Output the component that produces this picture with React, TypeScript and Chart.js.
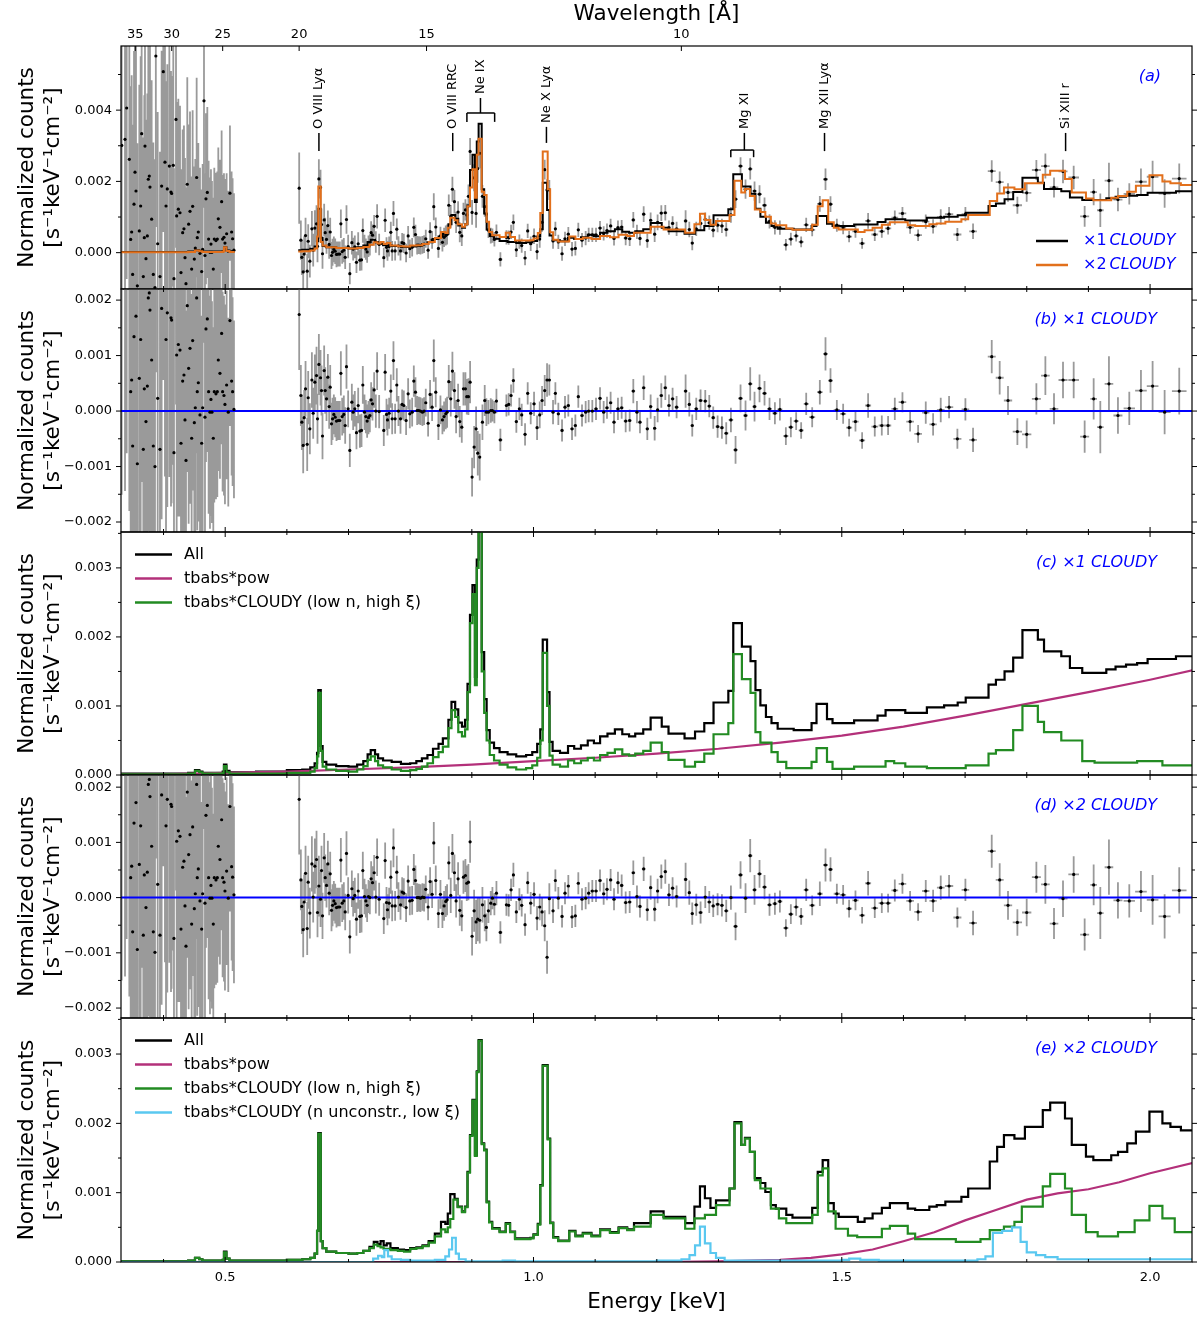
import { useEffect, useRef } from 'react'
import { Chart, LineController, LineElement, PointElement, LinearScale } from 'chart.js'

Chart.register(LineController, LineElement, PointElement, LinearScale)
Chart.defaults.font.family = '"DejaVu Sans", sans-serif'

// every count value below is in units of 1e-3 s^-1 keV^-1 cm^-2
type Step = [number, number]          // [bin start energy (keV), value]
type Resid = [number, number, number] // [energy (keV), residual to x1 model, 1-sigma error]

const E_MIN = 0.331
const E_MAX = 2.068
const HC = 12.398 // keV * Angstrom

const LAMBDA_TICKS = [35, 30, 25, 20, 15, 10]
const E_LABELS = [0.5, 1.0, 1.5, 2.0]
const E_TICKS = [0.4, 0.5, 0.6, 0.7, 0.8, 0.9, 1.0, 1.1, 1.2, 1.3, 1.4, 1.5, 1.6, 1.7, 1.8, 1.9, 2.0]

// total model with one CLOUDY component (panel c "All", black in panel a)
const ALL_X1: Step[] = [
  [0.331, 0.02], [0.44, 0.03], [0.451, 0.07], [0.458, 0.05], [0.463, 0.03],
  [0.496, 0.05], [0.498, 0.15], [0.502, 0.06], [0.507, 0.04], [0.55, 0.05],
  [0.6, 0.07], [0.625, 0.08], [0.638, 0.11], [0.645, 0.17], [0.649, 0.32],
  [0.651, 1.23], [0.655, 0.42], [0.658, 0.19], [0.664, 0.15], [0.68, 0.13],
  [0.7, 0.12], [0.714, 0.15], [0.724, 0.2], [0.731, 0.3], [0.736, 0.36],
  [0.743, 0.3], [0.748, 0.24], [0.756, 0.21], [0.77, 0.19], [0.785, 0.16],
  [0.8, 0.17], [0.81, 0.2], [0.819, 0.24], [0.828, 0.29], [0.837, 0.38],
  [0.846, 0.45], [0.853, 0.53], [0.862, 0.8], [0.867, 1.06], [0.873, 0.95],
  [0.878, 0.76], [0.884, 0.7], [0.889, 0.8], [0.893, 1.32], [0.897, 2.32],
  [0.901, 2.75], [0.905, 1.42], [0.908, 3.12], [0.911, 3.62], [0.916, 1.78],
  [0.92, 1.1], [0.924, 0.65], [0.929, 0.47], [0.936, 0.39], [0.945, 0.33],
  [0.958, 0.3], [0.972, 0.27], [0.988, 0.29], [0.998, 0.33], [1.006, 0.45],
  [1.011, 0.66], [1.015, 1.96], [1.022, 1.2], [1.026, 0.48], [1.031, 0.35],
  [1.043, 0.32], [1.056, 0.42], [1.066, 0.38], [1.077, 0.43], [1.088, 0.5],
  [1.098, 0.46], [1.108, 0.56], [1.12, 0.6], [1.132, 0.66], [1.144, 0.59],
  [1.155, 0.56], [1.165, 0.6], [1.178, 0.66], [1.19, 0.83], [1.208, 0.7],
  [1.219, 0.6], [1.245, 0.53], [1.262, 0.63], [1.277, 0.75], [1.292, 1.05],
  [1.316, 1.22], [1.324, 2.2], [1.338, 1.86], [1.352, 1.65], [1.36, 1.23],
  [1.368, 1.01], [1.377, 0.84], [1.386, 0.75], [1.396, 0.67], [1.422, 0.65],
  [1.451, 0.75], [1.459, 1.03], [1.476, 0.81], [1.485, 0.75], [1.52, 0.79],
  [1.558, 0.86], [1.571, 0.94], [1.603, 0.9], [1.638, 0.98], [1.666, 1.01],
  [1.688, 1.05], [1.701, 1.12], [1.738, 1.31], [1.75, 1.38], [1.764, 1.5],
  [1.778, 1.7], [1.793, 2.1], [1.818, 1.96], [1.828, 1.79], [1.856, 1.72],
  [1.87, 1.55], [1.89, 1.48], [1.929, 1.53], [1.944, 1.57], [1.961, 1.6],
  [1.979, 1.62], [1.996, 1.68], [2.042, 1.72], [2.07, 1.72],
]

const CLOUDY_X1: Step[] = [
  [0.331, 0.01], [0.44, 0.02], [0.451, 0.06], [0.458, 0.04], [0.463, 0.02],
  [0.496, 0.03], [0.498, 0.13], [0.502, 0.04], [0.507, 0.02], [0.55, 0.02],
  [0.6, 0.03], [0.625, 0.03], [0.638, 0.05], [0.645, 0.1], [0.649, 0.27],
  [0.651, 1.19], [0.655, 0.35], [0.658, 0.12], [0.664, 0.08], [0.68, 0.06],
  [0.7, 0.05], [0.714, 0.08], [0.724, 0.13], [0.731, 0.22], [0.736, 0.27],
  [0.743, 0.2], [0.748, 0.14], [0.756, 0.11], [0.77, 0.08], [0.785, 0.06],
  [0.8, 0.07], [0.81, 0.09], [0.819, 0.12], [0.828, 0.17], [0.837, 0.26],
  [0.846, 0.33], [0.853, 0.41], [0.862, 0.68], [0.867, 0.94], [0.873, 0.84],
  [0.878, 0.62], [0.884, 0.56], [0.889, 0.66], [0.893, 1.2], [0.897, 2.2],
  [0.901, 2.62], [0.905, 1.3], [0.908, 3.0], [0.911, 3.8], [0.916, 1.5],
  [0.92, 0.9], [0.924, 0.5], [0.929, 0.29], [0.936, 0.21], [0.945, 0.15],
  [0.958, 0.11], [0.972, 0.08], [0.988, 0.1], [0.998, 0.14], [1.006, 0.25],
  [1.011, 0.5], [1.015, 1.77], [1.022, 1.0], [1.026, 0.28], [1.031, 0.15],
  [1.043, 0.12], [1.056, 0.21], [1.066, 0.17], [1.077, 0.21], [1.088, 0.25],
  [1.098, 0.21], [1.108, 0.29], [1.12, 0.32], [1.132, 0.37], [1.144, 0.3],
  [1.155, 0.28], [1.165, 0.31], [1.178, 0.35], [1.19, 0.47], [1.208, 0.33],
  [1.219, 0.22], [1.245, 0.12], [1.262, 0.19], [1.277, 0.31], [1.292, 0.59],
  [1.316, 0.75], [1.324, 1.75], [1.338, 1.39], [1.352, 1.19], [1.36, 0.62],
  [1.368, 0.47], [1.386, 0.33], [1.396, 0.19], [1.41, 0.1], [1.451, 0.19],
  [1.459, 0.39], [1.476, 0.19], [1.485, 0.09], [1.52, 0.12], [1.571, 0.2],
  [1.585, 0.17], [1.603, 0.12], [1.638, 0.1], [1.701, 0.14], [1.738, 0.31],
  [1.75, 0.36], [1.778, 0.65], [1.793, 1.0], [1.818, 0.77], [1.828, 0.62],
  [1.856, 0.5], [1.89, 0.2], [1.91, 0.18], [1.979, 0.2], [2.0, 0.2],
  [2.02, 0.14], [2.07, 0.14],
]

const POW_X1: Step[] = [
  [0.331, 0.005], [0.4, 0.01], [0.5, 0.03], [0.6, 0.05], [0.7, 0.08],
  [0.8, 0.11], [0.9, 0.15], [1.0, 0.2], [1.1, 0.25], [1.2, 0.31],
  [1.3, 0.38], [1.4, 0.47], [1.5, 0.57], [1.6, 0.7], [1.7, 0.86],
  [1.8, 1.03], [1.9, 1.2], [2.0, 1.38], [2.07, 1.52],
]

// total model with two CLOUDY components (panel e "All", orange in panel a)
const ALL_X2: Step[] = [
  [0.331, 0.01], [0.44, 0.02], [0.451, 0.06], [0.458, 0.04], [0.463, 0.02],
  [0.496, 0.03], [0.498, 0.15], [0.502, 0.05], [0.507, 0.02], [0.55, 0.02],
  [0.6, 0.03], [0.625, 0.04], [0.638, 0.06], [0.645, 0.12], [0.649, 0.45],
  [0.651, 1.86], [0.655, 0.3], [0.658, 0.2], [0.664, 0.15], [0.68, 0.13],
  [0.7, 0.12], [0.714, 0.13], [0.724, 0.16], [0.734, 0.22], [0.741, 0.29],
  [0.747, 0.26], [0.752, 0.3], [0.757, 0.24], [0.762, 0.27], [0.768, 0.2],
  [0.78, 0.18], [0.79, 0.17], [0.8, 0.2], [0.81, 0.21], [0.82, 0.24],
  [0.83, 0.3], [0.84, 0.41], [0.85, 0.58], [0.857, 0.55], [0.861, 0.7],
  [0.865, 0.98], [0.872, 0.91], [0.877, 0.8], [0.884, 0.73], [0.889, 0.8],
  [0.893, 1.3], [0.897, 1.83], [0.901, 2.34], [0.905, 1.54], [0.908, 2.75],
  [0.911, 3.2], [0.916, 1.71], [0.92, 1.62], [0.924, 0.87], [0.928, 0.58],
  [0.933, 0.49], [0.945, 0.44], [0.955, 0.56], [0.962, 0.44], [0.97, 0.34],
  [0.995, 0.35], [1.0, 0.4], [1.007, 0.55], [1.011, 1.11], [1.015, 2.84],
  [1.023, 1.78], [1.027, 0.57], [1.032, 0.36], [1.04, 0.31], [1.058, 0.45],
  [1.068, 0.38], [1.08, 0.42], [1.094, 0.38], [1.108, 0.47], [1.124, 0.43],
  [1.138, 0.5], [1.152, 0.47], [1.163, 0.56], [1.19, 0.73], [1.211, 0.65],
  [1.246, 0.56], [1.261, 0.8], [1.27, 1.09], [1.278, 0.92], [1.287, 0.78],
  [1.296, 0.89], [1.318, 1.06], [1.326, 2.02], [1.337, 1.69], [1.343, 1.79],
  [1.351, 1.59], [1.359, 1.21], [1.368, 1.14], [1.376, 1.01], [1.385, 0.82],
  [1.393, 0.77], [1.41, 0.68], [1.42, 0.64], [1.452, 0.78], [1.461, 1.3],
  [1.469, 1.47], [1.478, 0.85], [1.487, 0.7], [1.495, 0.65], [1.526, 0.58],
  [1.537, 0.63], [1.55, 0.7], [1.565, 0.78], [1.578, 0.85], [1.607, 0.77],
  [1.619, 0.75], [1.642, 0.8], [1.654, 0.82], [1.668, 0.87], [1.694, 0.94],
  [1.705, 1.06], [1.74, 1.45], [1.752, 1.66], [1.763, 1.83], [1.78, 1.78],
  [1.797, 1.95], [1.826, 2.19], [1.838, 2.3], [1.862, 2.07], [1.873, 1.69],
  [1.896, 1.52], [1.908, 1.47], [1.937, 1.54], [1.948, 1.59], [1.963, 1.71],
  [1.977, 1.88], [1.999, 2.17], [2.02, 2.0], [2.033, 1.95], [2.05, 1.9],
  [2.07, 1.9],
]

const CLOUDY_HI_X2: Step[] = [
  [0.331, 0.01], [0.44, 0.02], [0.451, 0.06], [0.458, 0.04], [0.463, 0.02],
  [0.496, 0.03], [0.498, 0.14], [0.502, 0.05], [0.507, 0.02], [0.55, 0.02],
  [0.6, 0.03], [0.625, 0.04], [0.638, 0.06], [0.645, 0.12], [0.649, 0.45],
  [0.651, 1.85], [0.655, 0.3], [0.658, 0.2], [0.664, 0.15], [0.68, 0.13],
  [0.7, 0.12], [0.714, 0.13], [0.724, 0.16], [0.734, 0.2], [0.741, 0.25],
  [0.747, 0.23], [0.752, 0.21], [0.757, 0.19], [0.768, 0.17], [0.78, 0.16],
  [0.79, 0.15], [0.8, 0.19], [0.81, 0.2], [0.82, 0.23], [0.83, 0.28],
  [0.84, 0.37], [0.85, 0.47], [0.857, 0.43], [0.861, 0.5], [0.865, 0.62],
  [0.87, 0.9], [0.877, 0.79], [0.884, 0.72], [0.889, 0.79], [0.893, 1.29],
  [0.897, 1.82], [0.901, 2.33], [0.905, 1.53], [0.908, 2.74], [0.911, 3.19],
  [0.916, 1.7], [0.92, 1.61], [0.924, 0.86], [0.928, 0.57], [0.933, 0.48],
  [0.945, 0.43], [0.955, 0.55], [0.962, 0.43], [0.97, 0.33], [0.995, 0.34],
  [1.0, 0.39], [1.007, 0.54], [1.011, 1.1], [1.015, 2.83], [1.023, 1.77],
  [1.027, 0.56], [1.032, 0.35], [1.04, 0.3], [1.058, 0.44], [1.068, 0.37],
  [1.08, 0.41], [1.094, 0.37], [1.108, 0.46], [1.124, 0.42], [1.138, 0.49],
  [1.152, 0.46], [1.163, 0.51], [1.19, 0.68], [1.211, 0.63], [1.246, 0.48],
  [1.261, 0.63], [1.278, 0.68], [1.296, 0.82], [1.318, 1.06], [1.326, 2.0],
  [1.337, 1.69], [1.343, 1.78], [1.351, 1.59], [1.359, 1.18], [1.368, 1.06],
  [1.385, 0.77], [1.398, 0.63], [1.41, 0.56], [1.452, 0.68], [1.461, 1.25],
  [1.469, 1.35], [1.478, 0.73], [1.49, 0.48], [1.51, 0.38], [1.525, 0.36],
  [1.565, 0.48], [1.578, 0.52], [1.607, 0.41], [1.619, 0.33], [1.685, 0.29],
  [1.725, 0.33], [1.74, 0.46], [1.763, 0.51], [1.78, 0.58], [1.792, 0.8],
  [1.826, 1.09], [1.838, 1.27], [1.862, 1.06], [1.873, 0.68], [1.896, 0.43],
  [1.915, 0.37], [1.948, 0.43], [1.975, 0.6], [1.999, 0.81], [2.02, 0.63],
  [2.04, 0.43], [2.07, 0.43],
]

const CLOUDY_LO_X2: Step[] = [
  [0.331, 0.0], [0.74, 0.05], [0.748, 0.09], [0.754, 0.07], [0.758, 0.17],
  [0.764, 0.08], [0.77, 0.04], [0.785, 0.03], [0.8, 0.02], [0.84, 0.03],
  [0.857, 0.08], [0.863, 0.18], [0.868, 0.35], [0.874, 0.12], [0.879, 0.04],
  [0.89, 0.01], [0.95, 0.02], [0.97, 0.01], [1.1, 0.01], [1.2, 0.02],
  [1.24, 0.04], [1.253, 0.1], [1.262, 0.24], [1.27, 0.51], [1.278, 0.27],
  [1.287, 0.13], [1.296, 0.06], [1.31, 0.02], [1.5, 0.03], [1.512, 0.05],
  [1.53, 0.03], [1.56, 0.02], [1.72, 0.04], [1.733, 0.08], [1.745, 0.42],
  [1.76, 0.45], [1.776, 0.5], [1.79, 0.29], [1.8, 0.14], [1.815, 0.1],
  [1.83, 0.07], [1.85, 0.04], [2.07, 0.04],
]

const POW_X2: Step[] = [
  [0.331, 0.0], [1.2, 0.0], [1.3, 0.01], [1.4, 0.03], [1.45, 0.06],
  [1.5, 0.11], [1.55, 0.18], [1.6, 0.3], [1.65, 0.43], [1.7, 0.6],
  [1.75, 0.75], [1.8, 0.9], [1.85, 0.99], [1.9, 1.05], [1.95, 1.15],
  [2.0, 1.28], [2.07, 1.43],
]

const RESID_LOW: Resid[] = [
  [0.3321, 2.99, 4.5], [0.3375, 3.16, 4.6], [0.3402, 4.04, 4.8], [0.3445, 2.6, 4.4],
  [0.3467, 0.35, 4.3], [0.3483, 0.56, 4.4], [0.3499, -0.63, 4.2], [0.3521, 1.34, 4.3],
  [0.3537, 2.24, 4.5], [0.3553, 1.71, 4.2], [0.3575, -0.95, 4.0], [0.3607, 0.59, 4.1],
  [0.3629, 1.29, 4.2], [0.3645, 3.32, 4.6], [0.3672, -0.69, 3.9], [0.3688, 0.4, 4.0],
  [0.3699, 2.97, 4.4], [0.3715, -0.19, 3.9], [0.3737, 0.45, 4.0], [0.3753, 2.04, 4.2],
  [0.3769, 2.13, 4.1], [0.378, 1.82, 4.0], [0.3807, 0.92, 3.9], [0.3834, -0.63, 3.7],
  [0.3861, -1.0, 3.6], [0.3875, 5.5, 4.8], [0.3905, 0.23, 3.7], [0.3942, -0.69, 3.5],
  [0.3969, 1.85, 3.8], [0.3996, 5.06, 4.5], [0.4023, 2.52, 3.7], [0.404, 1.29, 3.5],
  [0.4061, 1.77, 3.5], [0.4094, 2.41, 3.6], [0.4121, 1.68, 3.4], [0.4131, 1.64, 3.3],
  [0.4158, 2.43, 3.4], [0.4169, -0.75, 3.1], [0.4202, 3.72, 3.6], [0.4213, 1.01, 3.2],
  [0.424, 1.2, 3.1], [0.4267, 1.1, 3.0], [0.4283, -0.58, 2.9], [0.431, 0.54, 2.9],
  [0.4331, 0.65, 2.9], [0.4348, -0.16, 2.8], [0.4364, -0.89, 2.7], [0.4385, 1.9, 3.0],
  [0.4407, 0.77, 2.8], [0.4429, 1.13, 2.8], [0.4456, -0.49, 2.6], [0.4472, 1.27, 2.7],
  [0.4499, -0.21, 2.6], [0.4515, 0.06, 2.5], [0.4537, 2.04, 2.8], [0.4547, 0.35, 2.5],
  [0.4564, 0.51, 2.5], [0.4591, -0.07, 2.4], [0.4618, -0.58, 2.3], [0.4634, 0.06, 2.4],
  [0.4656, 4.23, 3.0], [0.4672, -0.11, 2.3], [0.4688, 1.48, 2.4], [0.471, 1.66, 2.4],
  [0.4731, 0.35, 2.2], [0.4753, -0.02, 2.1], [0.4769, 0.21, 2.1], [0.4785, -0.02, 2.0],
  [0.4807, -0.49, 2.0], [0.4823, 0.35, 2.0], [0.485, 0.31, 1.9], [0.4872, 0.35, 1.9],
  [0.4888, 0.92, 2.0], [0.4915, 0.68, 1.9], [0.4942, 1.4, 2.0], [0.4958, 0.35, 1.8],
  [0.498, 0.28, 1.8], [0.4996, 0.12, 1.8], [0.5023, 0.47, 1.7], [0.505, -0.02, 1.7],
  [0.5077, 1.63, 1.9], [0.5104, 0.54, 1.7], [0.512, 0.35, 1.7], [0.5142, 0.03, 1.6],
]

// spectral bins above 0.62 keV (residuals)
const RESID_MAIN: Resid[] = [
  [0.62, 1.74, 1.0], [0.6227, 0.28, 0.55], [0.6243, -0.2, 0.5], [0.6265, -0.62, 0.5],
  [0.6281, -0.12, 0.5], [0.6303, 0.4, 0.5], [0.633, -0.6, 0.48], [0.6346, 0.24, 0.48],
  [0.6373, -0.32, 0.46], [0.6406, 0.56, 0.5], [0.6427, -0.04, 0.46], [0.6454, 0.52, 0.5],
  [0.6481, 0.64, 0.52], [0.6497, -0.14, 0.45], [0.6519, 0.84, 0.55], [0.6546, 0.6, 0.5],
  [0.6562, 0.37, 0.45], [0.6578, -0.45, 0.42], [0.6605, 0.73, 0.45], [0.6622, 0.37, 0.42],
  [0.6643, 0.22, 0.4], [0.6665, 0.61, 0.42], [0.6686, 0.08, 0.4], [0.6703, 0.43, 0.4],
  [0.6724, -0.23, 0.38], [0.6741, -0.14, 0.38], [0.6762, -0.06, 0.36], [0.6784, -0.11, 0.36],
  [0.6805, -0.18, 0.36], [0.6832, -0.17, 0.35], [0.6859, -0.17, 0.35], [0.6876, 0.68, 0.4],
  [0.6897, -0.1, 0.34], [0.6924, -0.06, 0.34], [0.6946, -0.26, 0.33], [0.6967, 0.8, 0.4],
  [0.6994, 0.04, 0.33], [0.7021, -0.71, 0.3], [0.7054, 0.16, 0.33], [0.7075, -0.02, 0.32],
  [0.7102, 0.04, 0.32], [0.7129, -0.39, 0.3], [0.7157, 0.1, 0.32], [0.7184, -0.36, 0.3],
  [0.7211, -0.35, 0.3], [0.7232, 0.47, 0.34], [0.7259, -0.02, 0.32], [0.7281, -0.1, 0.3],
  [0.7302, -0.18, 0.3], [0.7324, -0.12, 0.3], [0.7346, -0.08, 0.3], [0.7367, 0.2, 0.32],
  [0.7389, 0.13, 0.3], [0.7416, 0.38, 0.32], [0.7443, 0.0, 0.3], [0.7464, 0.72, 0.34],
  [0.7497, -0.01, 0.3], [0.7572, -0.35, 0.28], [0.7594, 0.7, 0.33], [0.7616, -0.06, 0.28],
  [0.7632, -0.16, 0.28], [0.7659, -0.04, 0.28], [0.7686, 0.36, 0.3], [0.7708, -0.14, 0.28],
  [0.7729, 0.91, 0.35], [0.7756, -0.14, 0.27], [0.7783, 0.47, 0.3], [0.781, 0.0, 0.27],
  [0.7843, -0.14, 0.27], [0.787, 0.12, 0.27], [0.7897, 0.1, 0.27], [0.7934, -0.17, 0.26],
  [0.7967, 0.31, 0.28], [0.7994, -0.05, 0.26], [0.8032, -0.02, 0.26], [0.8059, 0.54, 0.28],
  [0.8086, 0.34, 0.27], [0.8113, 0.01, 0.26], [0.814, 0.01, 0.25], [0.8167, 0.0, 0.25],
  [0.8199, -0.02, 0.25], [0.8226, 0.0, 0.25], [0.8253, 0.15, 0.25], [0.8291, -0.22, 0.24],
  [0.8323, 0.3, 0.26], [0.8356, 0.07, 0.25], [0.8383, 0.91, 0.38], [0.8415, 0.34, 0.27],
  [0.8458, -0.26, 0.26], [0.8491, 0.02, 0.26], [0.8523, -0.16, 0.26], [0.855, -0.1, 0.27],
  [0.8577, -0.05, 0.28], [0.8599, -0.02, 0.28], [0.8626, 0.53, 0.3], [0.8658, 0.22, 0.32],
  [0.8685, 0.72, 0.35], [0.8718, 0.37, 0.33], [0.8745, -0.1, 0.3], [0.8777, 0.19, 0.3],
  [0.8804, -0.19, 0.28], [0.8837, -0.29, 0.28], [0.8864, 0.4, 0.3], [0.8896, 0.4, 0.3],
  [0.8918, 0.26, 0.32], [0.8945, 0.26, 0.33], [0.8972, 0.52, 0.38], [0.9004, -1.19, 0.35],
  [0.9037, -0.65, 0.38], [0.9069, -0.32, 0.4], [0.9096, -0.76, 0.4], [0.9128, -0.83, 0.42],
  [0.9172, -0.2, 0.32], [0.9209, 0.19, 0.28], [0.9236, -0.02, 0.25], [0.9269, -0.02, 0.22],
  [0.9307, 0.01, 0.22], [0.9334, 0.01, 0.2], [0.9366, -0.02, 0.2], [0.9399, 0.18, 0.22],
  [0.9463, -0.52, 0.2], [0.9561, 0.1, 0.2], [0.9598, 0.12, 0.2], [0.9636, 0.28, 0.2],
  [0.9674, 0.55, 0.22], [0.9722, -0.19, 0.2], [0.9771, 0.04, 0.2], [0.9809, -0.07, 0.2],
  [0.9863, -0.42, 0.2], [0.9906, 0.32, 0.2], [0.9955, -0.04, 0.2], [1.0009, 0.13, 0.22],
  [1.0058, -0.3, 0.22], [1.0101, -0.07, 0.24], [1.0139, 0.19, 0.26], [1.0182, 0.37, 0.28],
  [1.022, 0.56, 0.3], [1.0257, 0.56, 0.28], [1.0317, -0.02, 0.22], [1.0355, 0.32, 0.2],
  [1.0403, -0.05, 0.2], [1.0463, -0.35, 0.2], [1.0511, 0.07, 0.2], [1.0565, 0.1, 0.2],
  [1.0625, -0.32, 0.2], [1.0679, -0.26, 0.2], [1.0727, 0.26, 0.2], [1.0787, -0.08, 0.2],
  [1.0846, -0.02, 0.2], [1.0895, 0.0, 0.2], [1.0954, 0.0, 0.2], [1.1014, 0.04, 0.2],
  [1.1079, 0.23, 0.2], [1.1138, -0.02, 0.2], [1.1192, 0.06, 0.2], [1.1251, 0.15, 0.2],
  [1.1306, -0.2, 0.2], [1.137, 0.04, 0.2], [1.143, 0.06, 0.2], [1.1495, -0.18, 0.2],
  [1.156, -0.17, 0.2], [1.1619, 0.36, 0.22], [1.1678, -0.02, 0.2], [1.1727, -0.2, 0.2],
  [1.1787, 0.42, 0.22], [1.1846, -0.32, 0.2], [1.19, 0.08, 0.22], [1.1965, -0.31, 0.22],
  [1.2013, 0.02, 0.22], [1.2073, 0.28, 0.22], [1.2138, 0.42, 0.22], [1.2197, 0.1, 0.2],
  [1.2256, 0.22, 0.2], [1.2321, 0.07, 0.2], [1.2467, 0.36, 0.3], [1.2527, 0.12, 0.22],
  [1.2575, -0.26, 0.2], [1.264, 0.04, 0.2], [1.271, 0.19, 0.2], [1.2786, 0.18, 0.2],
  [1.2851, 0.09, 0.2], [1.2915, -0.12, 0.2], [1.2986, -0.28, 0.2], [1.3056, -0.3, 0.2],
  [1.3126, -0.4, 0.2], [1.3202, -0.16, 0.22], [1.3277, -0.7, 0.25], [1.3358, 0.23, 0.25],
  [1.3439, -0.08, 0.27], [1.3515, 0.49, 0.3], [1.3585, 0.08, 0.27], [1.3666, 0.41, 0.25],
  [1.3747, 0.32, 0.22], [1.3828, 0.04, 0.2], [1.3915, -0.04, 0.2], [1.3996, 0.03, 0.2],
  [1.4093, -0.45, 0.16], [1.4174, -0.29, 0.18], [1.426, -0.18, 0.16], [1.4341, -0.35, 0.15],
  [1.4423, 0.13, 0.2], [1.452, -0.11, 0.18], [1.4644, 0.34, 0.22], [1.4736, 1.03, 0.3],
  [1.4817, 0.55, 0.22], [1.492, 0.02, 0.18], [1.5022, -0.05, 0.18], [1.5119, -0.3, 0.16],
  [1.5222, -0.19, 0.18], [1.533, -0.53, 0.15], [1.5427, 0.1, 0.22], [1.5535, -0.28, 0.18],
  [1.5649, -0.26, 0.18], [1.5751, -0.26, 0.17], [1.586, 0.04, 0.2], [1.5984, 0.16, 0.18],
  [1.6108, -0.19, 0.18], [1.6238, -0.41, 0.16], [1.6362, -0.03, 0.2], [1.6481, -0.24, 0.2],
  [1.6605, 0.02, 0.22], [1.674, 0.07, 0.2], [1.6875, -0.5, 0.18], [1.7005, 0.03, 0.2],
  [1.7129, -0.52, 0.22], [1.7432, 0.98, 0.3], [1.7561, 0.6, 0.3], [1.7696, 0.19, 0.26],
  [1.7848, -0.37, 0.24], [1.7999, -0.42, 0.25], [1.8156, 0.22, 0.28], [1.8302, 0.64, 0.35],
  [1.8442, 0.04, 0.28], [1.8588, 0.56, 0.33], [1.8761, 0.56, 0.33], [1.8939, -0.46, 0.29],
  [1.9085, 0.22, 0.37], [1.9193, -0.29, 0.47], [1.9333, 0.49, 0.5], [1.9479, -0.08, 0.33],
  [1.9663, 0.05, 0.3], [1.9852, 0.37, 0.37], [2.0041, 0.45, 0.45], [2.0236, -0.02, 0.4],
  [2.0473, 0.36, 0.42],
]

const LINE_MARKS = [
  { label: 'O VIII Lyα', e: 0.652, base: 2.85, tip: 3.36 },
  { label: 'O VIII RRC', e: 0.869, base: 2.85, tip: 3.36 },
  { label: 'Ne IX', e: 0.914, base: 3.92, tip: 4.34, span: [0.892, 0.937], foot: 3.67 },
  { label: 'Ne X Lyα', e: 1.021, base: 3.08, tip: 3.53 },
  { label: 'Mg XI', e: 1.342, base: 2.88, tip: 3.36, span: [1.32, 1.357], foot: 2.68 },
  { label: 'Mg XII Lyα', e: 1.472, base: 2.85, tip: 3.36 },
  { label: 'Si XIII r', e: 1.863, base: 2.85, tip: 3.36 },
]

const LEGEND_C = ['All', 'tbabs*pow', 'tbabs*CLOUDY (low n, high ξ)']
const LEGEND_E = ['All', 'tbabs*pow', 'tbabs*CLOUDY (low n, high ξ)', 'tbabs*CLOUDY (n unconstr., low ξ)']

const BLACK = '#000000'
const ORANGE = '#e2701c'
const MAGENTA = '#b3307a'
const GREEN = '#228b22'
const CYAN = '#5ac8f0'
const GRAY = '#9a9a9a'
const BLUE = '#0000ff'
const PLOT_LEFT = 121

const stepValue = (curve: Step[], e: number) => {
  let v = curve[0][1]
  for (const [x, y] of curve) { if (x <= e) v = y; else break }
  return v
}
const toXY = (curve: Step[]) => curve.map(([x, y]) => ({ x, y }))
const clipCurve = (curve: Step[], lo: number, hi: number) => [
  { x: lo, y: stepValue(curve, lo) },
  ...curve.filter(([x]) => x > lo && x < hi).map(([x, y]) => ({ x, y })),
  { x: hi, y: stepValue(curve, hi) },
]
const withGap = (curve: Step[]) => [
  ...clipCurve(curve, E_MIN, 0.5155),
  { x: 0.567, y: null },
  ...clipCurve(curve, 0.6185, E_MAX),
]

const ALL_RESID = [...RESID_LOW, ...RESID_MAIN]
const halfBin = (i: number) => {
  const e = ALL_RESID[i][0]
  const prev = i > 0 ? e - ALL_RESID[i - 1][0] : 1
  const next = i < ALL_RESID.length - 1 ? ALL_RESID[i + 1][0] - e : 1
  return Math.min(prev, next, 0.03) / 2
}

type Pt = { x: number; y: number; ye: number; xe: number }
const spectrumA: Pt[] = ALL_RESID.map(([e, r, s], i) => ({ x: e, y: stepValue(ALL_X1, e) + r, ye: s, xe: halfBin(i) }))
const residB: Pt[] = ALL_RESID.map(([e, r, s], i) => ({ x: e, y: r, ye: s, xe: halfBin(i) }))
const residD: Pt[] = spectrumA.map((p) => ({ ...p, y: p.y - stepValue(ALL_X2, p.x) }))

const errorSegments = (pts: Pt[]) => {
  const out: { x: number; y: number | null }[] = []
  for (const p of pts) {
    out.push({ x: p.x, y: p.y - p.ye }, { x: p.x, y: p.y + p.ye }, { x: p.x, y: null })
    out.push({ x: p.x - p.xe, y: p.y }, { x: p.x + p.xe, y: p.y }, { x: p.x + p.xe, y: null })
  }
  return out
}

const stepLine = (data: any[], color: string, width: number, order: number, stepped: boolean = true) => ({
  data, borderColor: color, borderWidth: width, pointRadius: 0, stepped, order, spanGaps: false, fill: false,
})
const errorLine = (pts: Pt[]) => ({
  data: errorSegments(pts), borderColor: GRAY, borderWidth: 1.8, pointRadius: 0, order: 10, spanGaps: false, fill: false,
})
const dots = (pts: Pt[], order: number) => ({
  data: pts.map((p) => ({ x: p.x, y: p.y })), showLine: false, pointRadius: 1.6,
  pointBackgroundColor: BLACK, pointBorderWidth: 0, order,
})
const zeroLine = () => stepLine([{ x: E_MIN, y: 0 }, { x: E_MAX, y: 0 }], BLUE, 2, 2, false)

const fmtY = (v: number) => (v / 1000).toFixed(3).replace('-', '\u2212')

type Ctx = CanvasRenderingContext2D
const seg = (ctx: Ctx, x1: number, y1: number, x2: number, y2: number) => {
  ctx.beginPath(); ctx.moveTo(x1, y1); ctx.lineTo(x2, y2); ctx.stroke()
}
const panelLabel = (ctx: Ctx, chart: any, text: string, dx: number) => {
  const { right, top } = chart.chartArea
  ctx.fillStyle = BLUE
  ctx.font = 'italic 16px "DejaVu Sans"'
  ctx.textAlign = 'right'
  ctx.textBaseline = 'middle'
  ctx.fillText(text, right - dx, top + 31)
}
const legendRows = (ctx: Ctx, chart: any, labels: string[], colors: string[]) => {
  const { left, top } = chart.chartArea
  labels.forEach((label, i) => {
    const y = top + 22.5 + i * 24
    ctx.strokeStyle = colors[i]
    ctx.lineWidth = 2.5
    seg(ctx, left + 14, y, left + 51, y)
    ctx.fillStyle = BLACK
    ctx.font = '16px "DejaVu Sans"'
    ctx.textAlign = 'left'
    ctx.textBaseline = 'middle'
    ctx.fillText(label, left + 63, y)
  })
}

const decoratePanelA = (ctx: Ctx, chart: any) => {
  const xs = chart.scales.x, ys = chart.scales.y
  ctx.strokeStyle = BLACK
  ctx.lineWidth = 1.5
  for (const m of LINE_MARKS) {
    const px = xs.getPixelForValue(m.e)
    const pBase = ys.getPixelForValue(m.base), pTip = ys.getPixelForValue(m.tip)
    seg(ctx, px, pBase, px, pTip)
    if (m.span) {
      const a = xs.getPixelForValue(m.span[0]), b = xs.getPixelForValue(m.span[1])
      const pFoot = ys.getPixelForValue(m.foot as number)
      seg(ctx, a, pBase, b, pBase)
      seg(ctx, a, pBase, a, pFoot)
      seg(ctx, b, pBase, b, pFoot)
    }
    ctx.save()
    ctx.translate(px, pTip - 4)
    ctx.rotate(-Math.PI / 2)
    ctx.fillStyle = BLACK
    ctx.font = '13px "DejaVu Sans"'
    ctx.textAlign = 'left'
    ctx.textBaseline = 'middle'
    ctx.fillText(m.label, 0, 0)
    ctx.restore()
  }
  panelLabel(ctx, chart, '(a)', 31)
  const { right, top } = chart.chartArea
  const rows: [string, string][] = [['\u00d71', BLACK], ['\u00d72', ORANGE]]
  rows.forEach(([tag, color], i) => {
    const y = top + 195 + i * 24
    ctx.strokeStyle = color
    ctx.lineWidth = 2.5
    seg(ctx, right - 156, y, right - 124, y)
    ctx.fillStyle = BLUE
    ctx.textAlign = 'left'
    ctx.textBaseline = 'middle'
    ctx.font = '16px "DejaVu Sans"'
    ctx.fillText(tag, right - 109, y)
    const w = ctx.measureText(tag).width
    ctx.font = 'italic 16px "DejaVu Sans"'
    ctx.fillText('CLOUDY', right - 109 + w + 3, y)
  })
}

type PanelSpec = {
  key: string
  top: number
  height: number
  padTop: number
  padBottom: number
  yMin: number
  yMax: number
  yMajor: number[]
  yMinor: number[]
  topAxis: 'energy' | 'wavelength'
  bottomAxis: boolean
  datasets: () => any[]
  decorate: (ctx: Ctx, chart: any) => void
}

// canvases overlap; each plot area is placed by its padding (18 px keeps Chart.js label padding satisfied)
const PANELS: PanelSpec[] = [
  {
    key: 'a', top: 0, height: 307, padTop: 0, padBottom: 18,
    yMin: -1.02, yMax: 5.8, yMajor: [0, 2, 4], yMinor: [1, 3, 5],
    topAxis: 'wavelength', bottomAxis: false,
    datasets: () => [
      errorLine(spectrumA),
      dots(spectrumA, 3),
      stepLine(withGap(ALL_X1), BLACK, 2, 2),
      stepLine(withGap(ALL_X2), ORANGE, 2, 1),
    ],
    decorate: decoratePanelA,
  },
  {
    key: 'b', top: 271, height: 279, padTop: 18, padBottom: 18,
    yMin: -2.18, yMax: 2.2, yMajor: [-2, -1, 0, 1, 2], yMinor: [-1.5, -0.5, 0.5, 1.5],
    topAxis: 'energy', bottomAxis: false,
    datasets: () => [errorLine(residB), zeroLine(), dots(residB, 1)],
    decorate: (ctx, chart) => panelLabel(ctx, chart, '(b) \u00d71 CLOUDY', 35),
  },
  {
    key: 'c', top: 514, height: 279, padTop: 18, padBottom: 18,
    yMin: 0, yMax: 3.52, yMajor: [0, 1, 2, 3], yMinor: [0.5, 1.5, 2.5, 3.5],
    topAxis: 'energy', bottomAxis: false,
    datasets: () => [
      stepLine(toXY(ALL_X1), BLACK, 2.2, 4),
      stepLine(toXY(POW_X1), MAGENTA, 2.2, 3, false),
      stepLine(toXY(CLOUDY_X1), GREEN, 2.2, 2),
    ],
    decorate: (ctx, chart) => {
      legendRows(ctx, chart, LEGEND_C, [BLACK, MAGENTA, GREEN])
      panelLabel(ctx, chart, '(c) \u00d71 CLOUDY', 35)
    },
  },
  {
    key: 'd', top: 757, height: 279, padTop: 18, padBottom: 18,
    yMin: -2.18, yMax: 2.22, yMajor: [-2, -1, 0, 1, 2], yMinor: [-1.5, -0.5, 0.5, 1.5],
    topAxis: 'energy', bottomAxis: false,
    datasets: () => [errorLine(residD), zeroLine(), dots(residD, 1)],
    decorate: (ctx, chart) => panelLabel(ctx, chart, '(d) \u00d72 CLOUDY', 35),
  },
  {
    key: 'e', top: 1000, height: 317, padTop: 18, padBottom: 0,
    yMin: 0, yMax: 3.52, yMajor: [0, 1, 2, 3], yMinor: [0.5, 1.5, 2.5, 3.5],
    topAxis: 'energy', bottomAxis: true,
    datasets: () => [
      stepLine(toXY(ALL_X2), BLACK, 2.2, 4),
      stepLine(toXY(POW_X2), MAGENTA, 2.2, 3, false),
      stepLine(toXY(CLOUDY_HI_X2), GREEN, 2.2, 2),
      stepLine(toXY(CLOUDY_LO_X2), CYAN, 2.2, 1),
    ],
    decorate: (ctx, chart) => {
      legendRows(ctx, chart, LEGEND_E, [BLACK, MAGENTA, GREEN, CYAN])
      panelLabel(ctx, chart, '(e) \u00d72 CLOUDY', 35)
    },
  },
]

const frameAndTicks = (spec: PanelSpec) => ({
  id: 'frame-' + spec.key,
  afterDraw(chart: any) {
    const { ctx, chartArea: { left, right, top, bottom } } = chart
    const xs = chart.scales.x, ys = chart.scales.y
    ctx.save()
    ctx.strokeStyle = BLACK
    ctx.lineWidth = 1
    for (const e of E_TICKS) {
      const px = xs.getPixelForValue(e)
      const len = E_LABELS.some((m) => Math.abs(m - e) < 1e-6) ? 5 : 3
      seg(ctx, px, bottom, px, bottom - len)
      if (spec.topAxis === 'energy') seg(ctx, px, top, px, top + len)
    }
    if (spec.topAxis === 'wavelength') {
      for (const l of LAMBDA_TICKS) {
        const px = xs.getPixelForValue(HC / l)
        seg(ctx, px, top, px, top + 5)
      }
    }
    for (const v of spec.yMajor) {
      const py = ys.getPixelForValue(v)
      seg(ctx, left - 5, py, left, py)
      seg(ctx, right, py, right + 5, py)
    }
    for (const v of spec.yMinor) {
      const py = ys.getPixelForValue(v)
      seg(ctx, left - 3, py, left, py)
      seg(ctx, right, py, right + 3, py)
    }
    ctx.lineWidth = 1.2
    ctx.strokeRect(left, top, right - left, bottom - top)
    spec.decorate(ctx, chart)
    ctx.restore()
  },
})

const buildConfig = (spec: PanelSpec): any => {
  const scales: any = {
    x: {
      type: 'linear', position: 'bottom', min: E_MIN, max: E_MAX, display: spec.bottomAxis,
      grid: { display: false, drawTicks: false }, border: { display: false },
      ticks: { autoSkip: false, maxRotation: 0, padding: 8, color: BLACK, font: { size: 13 }, callback: (v: number) => Number(v).toFixed(1) },
      afterBuildTicks: (s: any) => { s.ticks = E_LABELS.map((value) => ({ value })) },
      afterFit: (s: any) => { s.height = spec.bottomAxis ? 55 : 0 },
      title: { display: true, text: 'Energy [keV]', color: BLACK, font: { size: 21.5 }, padding: { top: 0, bottom: 2 } },
    },
    y: {
      type: 'linear', position: 'left', min: spec.yMin, max: spec.yMax,
      grid: { display: false, drawTicks: false }, border: { display: false },
      ticks: { autoSkip: false, padding: 9, color: BLACK, font: { size: 13 }, callback: (v: number) => fmtY(v) },
      afterBuildTicks: (s: any) => { s.ticks = spec.yMajor.map((value) => ({ value })) },
      afterFit: (s: any) => { s.width = PLOT_LEFT },
      title: {
        display: true, text: ['Normalized counts', '[s\u207b\u00b9keV\u207b\u00b9cm\u207b\u00b2]'],
        color: BLACK, font: { size: 21.5, lineHeight: 1.2 }, padding: { top: 15, bottom: 0 },
      },
    },
  }
  if (spec.topAxis === 'wavelength') {
    scales.xTop = {
      type: 'linear', axis: 'x', position: 'top', min: E_MIN, max: E_MAX,
      grid: { display: false, drawTicks: false }, border: { display: false },
      ticks: { autoSkip: false, maxRotation: 0, padding: 4, color: BLACK, font: { size: 13 }, callback: (v: number) => String(Math.round(HC / v)) },
      afterBuildTicks: (s: any) => { s.ticks = LAMBDA_TICKS.map((l) => ({ value: HC / l })) },
      afterFit: (s: any) => { s.height = 46 },
      title: { display: true, text: 'Wavelength [Å]', color: BLACK, font: { size: 21.5 }, padding: { top: 2, bottom: 0 } },
    }
  }
  return {
    type: 'line',
    data: { datasets: spec.datasets() },
    options: {
      responsive: false,
      animation: false,
      events: [],
      layout: { padding: { left: 0, right: 8, top: spec.padTop, bottom: spec.padBottom } },
      scales,
    },
    plugins: [frameAndTicks(spec)],
  }
}

function Panel({ spec }: { spec: PanelSpec }) {
  const canvasRef = useRef<HTMLCanvasElement | null>(null)

  useEffect(() => {
    if (!canvasRef.current) return
    const chart = new Chart(canvasRef.current, buildConfig(spec))
    return () => chart.destroy()
  }, [spec])

  return (
    <canvas
      ref={canvasRef}
      width={1200}
      height={spec.height}
      style={{ position: 'absolute', left: 0, top: spec.top, width: 1200, height: spec.height }}
    />
  )
}

export default function App() {
  return (
    <div style={{ position: 'absolute', left: 0, top: 0, width: 1200, height: 1317, background: '#fff' }}>
      {PANELS.map((p) => <Panel key={p.key} spec={p} />)}
    </div>
  )
}
